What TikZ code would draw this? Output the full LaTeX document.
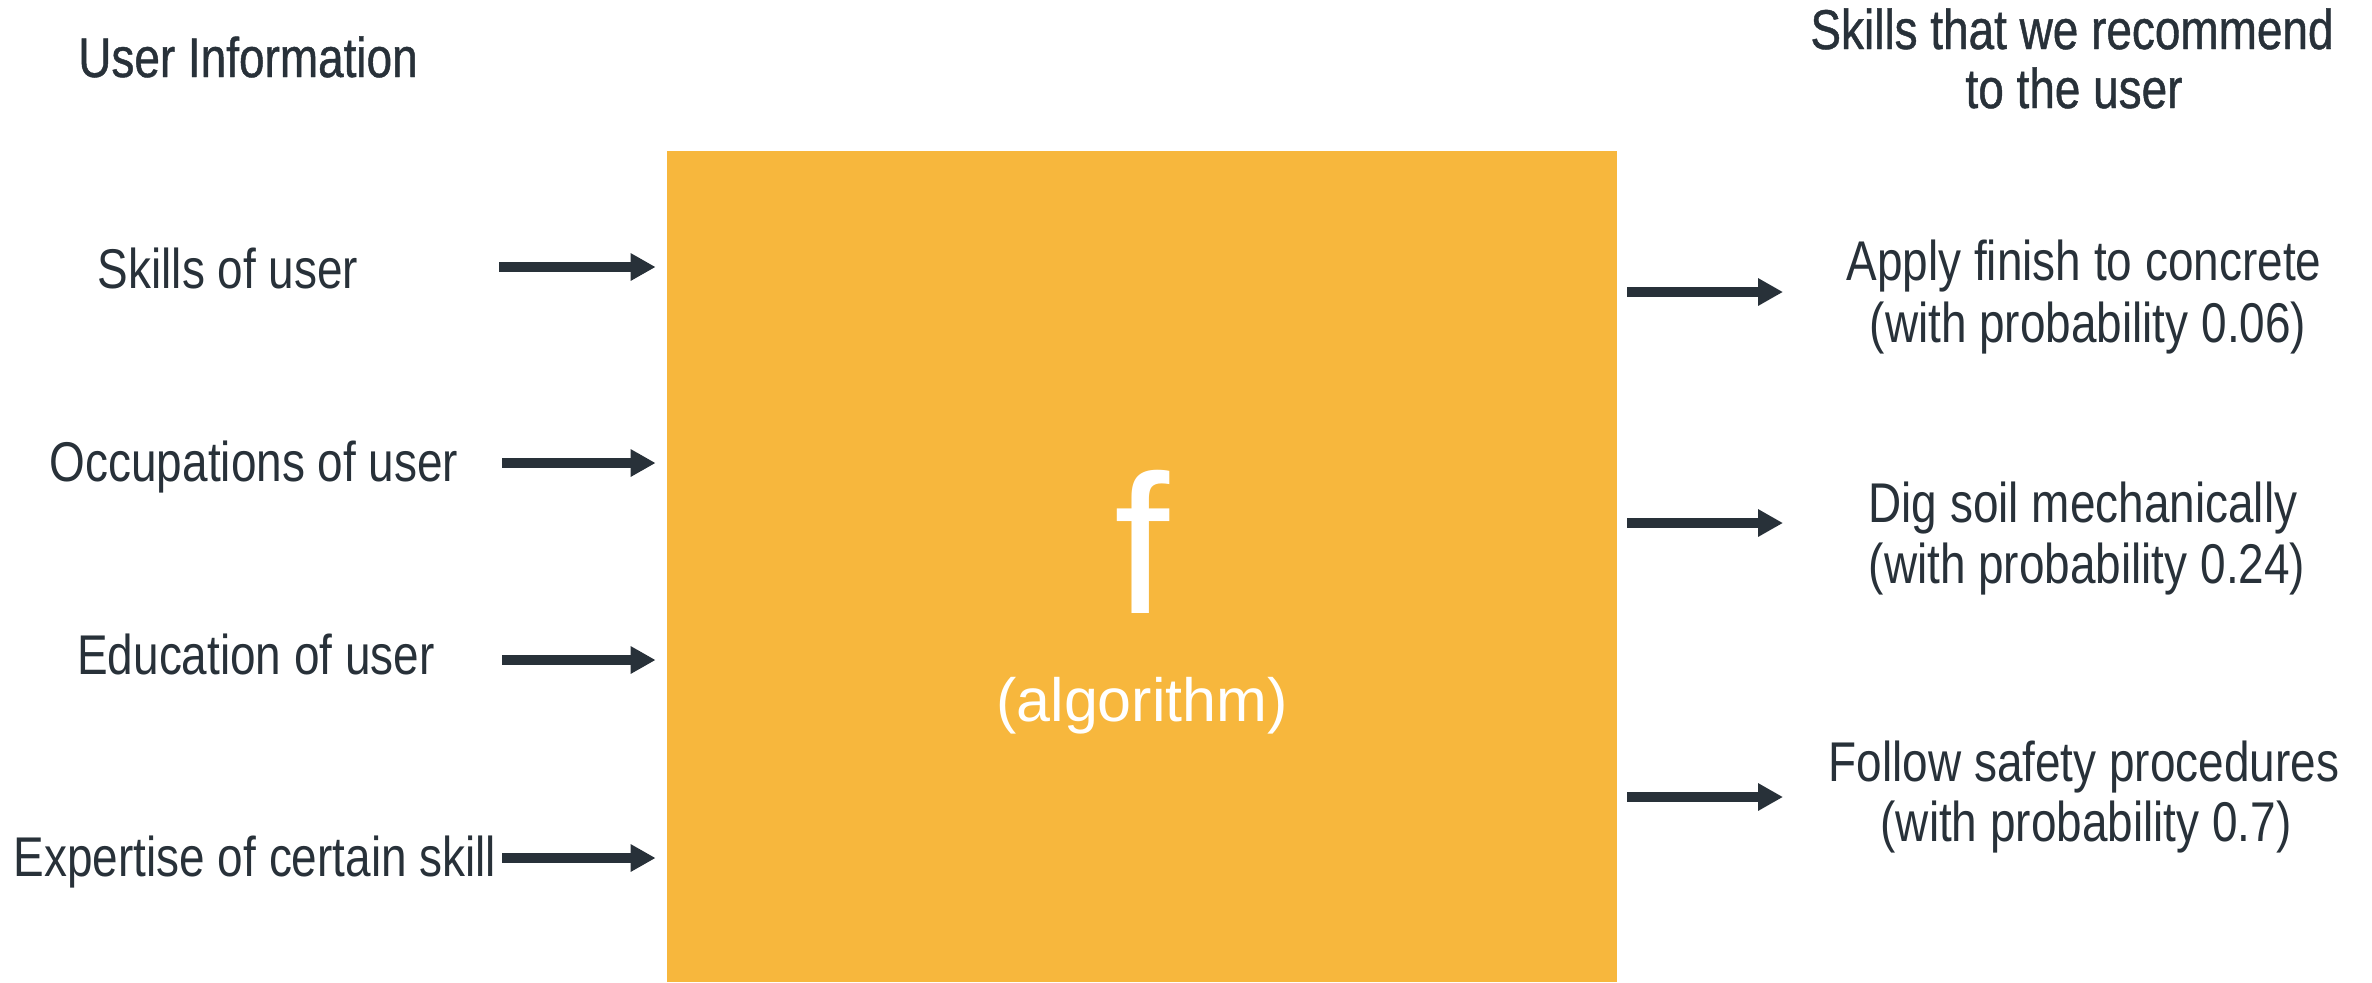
\documentclass[tikz,border=0pt]{standalone}
\usepackage{fontspec}
\setmainfont{Liberation Sans}
\newfontfamily\sidefont[FakeStretch=0.82]{Liberation Sans}
\newfontfamily\headfont[FakeStretch=0.82,FakeBold=0.8]{Liberation Sans}
\usetikzlibrary{arrows.meta}
\definecolor{ink}{HTML}{283139}
\definecolor{boxfill}{HTML}{F7B73D}
\tikzset{
  label/.style={anchor=base, inner sep=0pt, text=ink, font=\sidefont\fontsize{28}{30}\selectfont},
  heading/.style={anchor=base, inner sep=0pt, text=ink, font=\headfont\fontsize{28}{30}\selectfont},
  arr/.style={draw=ink, line width=4.6pt, -{Triangle[length=12.5pt,width=13pt]}},
  algbox/.style={fill=boxfill, draw=none, minimum width=475pt, minimum height=415.5pt, inner sep=0pt}
}
\begin{document}
\begin{tikzpicture}[x=0.5pt, y=-0.5pt]
\useasboundingbox (0,0) rectangle (2372,982);

% central algorithm block
\node[algbox] (box) at (1142,566.5) {};
\node[anchor=base, inner sep=0pt, text=white, font=\fontsize{99}{100}\selectfont] (fname) at (1142,613) {f};
\node[anchor=base, inner sep=0pt, text=white, font=\fontsize{30.5}{32}\selectfont] (alg) at (1142,721) {(algorithm)};

% inputs
\node[heading] (inhead) at (248,77) {User Information};
\node[label] (in1) at (228,288) {Skills of user};
\node[label] (in2) at (254,481) {Occupations of user};
\node[label] (in3) at (256,674) {Education of user};
\node[label] (in4) at (255,876) {Expertise of certain skill};

\coordinate (s1) at (499,267);
\coordinate (s2) at (502,463);
\coordinate (s3) at (502,660);
\coordinate (s4) at (502,858);
\foreach \i in {1,...,4}
  \draw[arr, shorten >=5.5pt] (s\i) -- (s\i -| box.west);

% outputs
\node[heading] (outhead1) at (2072,49) {Skills that we recommend};
\node[heading] (outhead2) at (2074,108) {to the user};

\node[label] (o1a) at (2084,280) {Apply finish to concrete};
\node[label] (o1b) at (2088,342) {(with probability 0.06)};
\node[label] (o2a) at (2083,522) {Dig soil mechanically};
\node[label] (o2b) at (2087,583) {(with probability 0.24)};
\node[label] (o3a) at (2084,781) {Follow safety procedures};
\node[label] (o3b) at (2086,841) {(with probability 0.7)};

\coordinate (t1) at (1783,292);
\coordinate (t2) at (1783,523);
\coordinate (t3) at (1783,797);
\foreach \i in {1,2,3}
  \draw[arr, shorten <=5pt] (box.east |- t\i) -- (t\i);
\end{tikzpicture}
\end{document}
